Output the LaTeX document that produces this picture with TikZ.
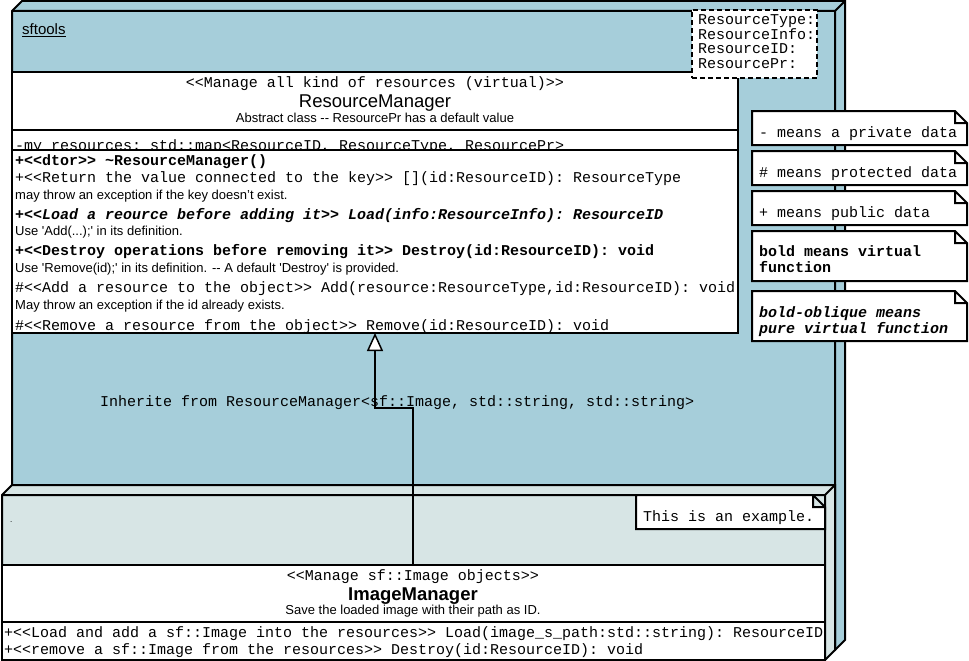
\documentclass[tikz,border=0pt]{standalone}
\usepackage{fontspec}
\setmainfont{Liberation Sans}
\setmonofont{Liberation Mono}
\usepackage{tikz}
\usetikzlibrary{arrows.meta}
\usepackage{xcolor}
\definecolor{pkgblue}{RGB}{166,206,218}
\definecolor{pkglight}{RGB}{215,229,229}

\begin{document}
\begin{tikzpicture}[x=1pt,y=-1pt,
    outline/.style={line width=2pt},
    box/.style={draw, outline, fill=white, rectangle, inner sep=0pt, outer sep=0pt, anchor=north west},
    code/.style={font=\ttfamily\fontsize{15}{18}\selectfont, inner sep=0pt, anchor=base west},
    codebf/.style={code, font=\ttfamily\bfseries\fontsize{15}{18}\selectfont},
    codebi/.style={code, font=\ttfamily\bfseries\itshape\fontsize{15}{18}\selectfont},
    remark/.style={font=\fontsize{13}{15}\selectfont, inner sep=0pt, anchor=base west},
    classname/.style={font=\fontsize{18.5}{20}\selectfont, inner sep=0pt, anchor=base}]
    \useasboundingbox (0,0) rectangle (969,661);

    % package sftools
    \draw[outline, fill=pkgblue] (12,11) -- (22,1) -- (845,1) -- (845,640) -- (835,650) -- (12,650) -- cycle;
    \draw[outline] (12,11) -- (835,11) -- (835,650) (835,11) -- (845,1);
    \node[font=\fontsize{15}{18}\selectfont, inner sep=0pt, anchor=base west] (pkgname) at (22,35) {\underline{sftools}};

    % inner package
    \draw[outline, fill=pkglight] (2,495) -- (12,485) -- (835,485) -- (835,650) -- (825,660) -- (2,660) -- cycle;
    \draw[outline] (2,495) -- (825,495) -- (825,660) (825,495) -- (835,485);
    \node[font=\fontsize{8}{9}\selectfont, inner sep=0pt, anchor=base west] (subpkg) at (10,522) {.};

    % ResourceManager
    \node[box, minimum width=726pt, minimum height=261pt] (rm) at (12,72) {};
    \draw[outline] (12,130) -- (738,130) (12,150) -- (738,150);
    \node[code, anchor=base] (rmstereo) at (375,87) {<<Manage all kind of resources (virtual)>>};
    \node[classname] (rmname) at (375,107) {ResourceManager};
    \node[remark, anchor=base] (rmnote) at (375,122) {Abstract class -{}- ResourcePr has a default value};
    \begin{scope}
        \clip (13,131) rectangle (737,149);
        \node[code] (rmattr) at (15,150) {-my\_resources: std::map<ResourceID, ResourceType, ResourcePr>};
    \end{scope}
    \node[codebf] (op1) at (15,165) {+<<dtor>> \textasciitilde ResourceManager()};
    \node[code] (op2) at (15,182) {+<<Return the value connected to the key>> [](id:ResourceID): ResourceType};
    \node[remark] (op2note) at (15,199) {may throw an exception if the key doesn't exist.};
    \node[codebi] (op3) at (15,219) {+<<Load a reource before adding it>> Load(info:ResourceInfo): ResourceID};
    \node[remark] (op3note) at (15,235) {Use \textquotesingle Add(...);\textquotesingle{} in its definition.};
    \node[codebf] (op4) at (15,255) {+<<Destroy operations before removing it>> Destroy(id:ResourceID): void};
    \node[remark] (op4note) at (15,272) {Use \textquotesingle Remove(id);\textquotesingle{} in its definition. -{}- A default \textquotesingle Destroy\textquotesingle{} is provided.};
    \node[code] (op5) at (15,292) {\#<<Add a resource to the object>> Add(resource:ResourceType,id:ResourceID): void};
    \node[remark] (op5note) at (15,309) {May throw an exception if the id already exists.};
    \node[code] (op6) at (15,330) {\#<<Remove a resource from the object>> Remove(id:ResourceID): void};

    % template parameters
    \node[box, dash pattern=on 5pt off 3pt, minimum width=125pt, minimum height=68pt] (tparams) at (692,10) {};
    \node[code] (tp1) at (698,25) {ResourceType:};
    \node[code] (tp2) at (698,39.5) {ResourceInfo:};
    \node[code] (tp3) at (698,54) {ResourceID:};
    \node[code] (tp4) at (698,68) {ResourcePr:};

    % notes
    \foreach \t/\b in {111/145,151/185,191/225,231/281,291/341}
        \draw[outline, fill=white] (752,\t) -- (955,\t) -- (967,{\t+12}) -- (967,\b) -- (752,\b) -- cycle
            (955,\t) |- (967,{\t+12});
    \node[code] (key1) at (759,137.5) {- means a private data};
    \node[code] (key2) at (759,177) {\# means protected data};
    \node[code] (key3) at (759,217) {+ means public data};
    \node[codebf] (key4a) at (759,256) {bold means virtual};
    \node[codebf] (key4b) at (759,272) {function};
    \node[codebi] (key5a) at (759,317) {bold-oblique means};
    \node[codebi] (key5b) at (759,333) {pure virtual function};

    \draw[outline, fill=white] (636,495) -- (813,495) -- (825,507) -- (825,529) -- (636,529) -- cycle
        (813,495) |- (825,507);
    \node[code] (example) at (643,521) {This is an example.};

    % ImageManager
    \node[box, minimum width=823pt, minimum height=95pt] (im) at (2,565) {};
    \draw[outline] (2,622) -- (825,622);
    \node[code, anchor=base] (imstereo) at (413,580) {<<Manage sf::Image objects>>};
    \node[classname, font=\bfseries\fontsize{18.5}{20}\selectfont] (imname) at (413,600) {ImageManager};
    \node[remark, anchor=base] (imnote) at (413,614) {Save the loaded image with their path as ID.};
    \node[code] (imop1) at (4,637) {+<<Load and add a sf::Image into the resources>> Load(image\_s\_path:std::string): ResourceID};
    \node[code] (imop2) at (4,654) {+<<remove a sf::Image from the resources>> Destroy(id:ResourceID): void};

    % inheritance
    \coordinate (bend) at (375,408);
    \coordinate (foot) at (413,408);
    \draw[outline, -{Triangle[fill=white, length=18pt, width=16pt, line width=1.5pt]}]
        (foot |- im.north) -- (foot) -- (bend) -- (bend |- rm.south);
    \node[code] (inherit) at (100,406) {Inherite from ResourceManager<sf::Image, std::string, std::string>};
\end{tikzpicture}
\end{document}
